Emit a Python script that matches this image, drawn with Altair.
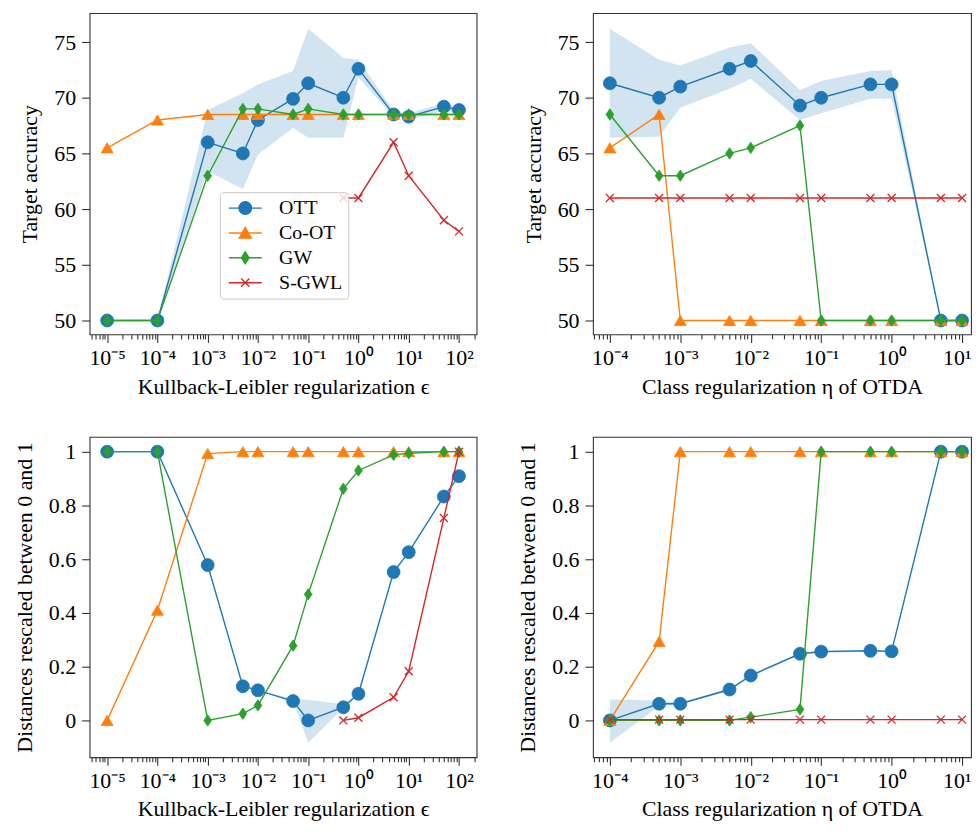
import altair as alt
import numpy as np
import pandas as pd

FONT = "Liberation Serif"
SERIES = ["OTT", "Co-OT", "GW", "S-GWL"]
COLORS = ["#1f77b4", "#ff7f0e", "#2ca02c", "#d62728"]

# x values
EPS = [1e-5, 1e-4, 1e-3, 5e-3, 1e-2, 5e-2, 1e-1, 5e-1, 1, 5, 10, 50, 100]
ETA = [1e-4, 5e-4, 1e-3, 5e-3, 1e-2, 5e-2, 1e-1, 5e-1, 1, 5, 10]

# Top-left: target accuracy vs KL regularization
ACC_EPS_OTT = [50, 50, 66.0, 65.0, 68.0, 69.9, 71.3, 70.0, 72.6, 68.5, 68.3, 69.2, 68.9]
ACC_EPS_OTT_LO = [50, 50, 63.4, 61.8, 64.9, 67.3, 66.4, 66.4, 71.8, 68.3, 68.0, 68.8, 68.8]
ACC_EPS_OTT_HI = [50, 50, 68.9, 70.4, 71.2, 72.4, 76.2, 73.6, 73.4, 68.8, 68.6, 69.5, 69.1]
ACC_EPS_COOT = [65.5, 68.0, 68.5, 68.5, 68.5, 68.5, 68.5, 68.5, 68.5, 68.5, 68.5, 68.5, 68.5]
ACC_EPS_GW = [50, 50, 63.0, 69.0, 69.0, 68.5, 69.0, 68.5, 68.5, 68.5, 68.5, 68.5, 68.5]
ACC_EPS_SGWL = [None, None, None, None, None, None, None, 61.0, 61.0, 66.0, 63.0, 59.0, 58.0]

# Top-right: target accuracy vs class regularization
ACC_ETA_OTT = [71.3, 70.0, 71.0, 72.6, 73.3, 69.3, 70.0, 71.2, 71.2, 50, 50]
ACC_ETA_OTT_LO = [66.4, 66.5, 69.1, 70.8, 71.7, 68.0, 68.6, 69.9, 69.9, 50, 50]
ACC_ETA_OTT_HI = [76.2, 73.4, 72.9, 74.5, 74.9, 70.7, 71.5, 72.4, 72.5, 50, 50]
ACC_ETA_COOT = [65.5, 68.5, 50, 50, 50, 50, 50, 50, 50, 50, 50]
ACC_ETA_GW = [68.5, 63.0, 63.0, 65.0, 65.5, 67.5, 50, 50, 50, 50, 50]
ACC_ETA_SGWL = [61.0, 61.0, 61.0, 61.0, 61.0, 61.0, 61.0, 61.0, 61.0, 61.0, 61.0]

# Bottom-left: rescaled distances vs KL regularization
DIST_EPS_OTT = [1.0, 1.0, 0.578, 0.127, 0.112, 0.072, 0.0, 0.049, 0.099, 0.552, 0.626, 0.833, 0.909]
DIST_EPS_OTT_LO = [1.0, 1.0, 0.578, 0.127, 0.112, 0.070, -0.083, 0.045, 0.099, 0.552, 0.626, 0.833, 0.909]
DIST_EPS_OTT_HI = [1.0, 1.0, 0.578, 0.127, 0.112, 0.081, 0.077, 0.060, 0.099, 0.552, 0.626, 0.833, 0.909]
DIST_EPS_COOT = [0.0, 0.41, 0.993, 1.0, 1.0, 1.0, 1.0, 1.0, 1.0, 1.0, 1.0, 1.0, 1.0]
DIST_EPS_GW = [1.0, 1.0, 0.0, 0.025, 0.056, 0.278, 0.469, 0.862, 0.930, 0.988, 0.994, 1.0, 1.0]
DIST_EPS_SGWL = [None, None, None, None, None, None, None, 0.0, 0.01, 0.086, 0.183, 0.753, 1.0]

# Bottom-right: rescaled distances vs class regularization
DIST_ETA_OTT = [0.0, 0.062, 0.062, 0.115, 0.167, 0.248, 0.256, 0.259, 0.257, 1.0, 1.0]
DIST_ETA_OTT_LO = [-0.083, 0.053, 0.058, 0.110, 0.162, 0.244, 0.252, 0.255, 0.253, 1.0, 1.0]
DIST_ETA_OTT_HI = [0.078, 0.074, 0.066, 0.120, 0.172, 0.252, 0.260, 0.263, 0.261, 1.0, 1.0]
DIST_ETA_COOT = [0.0, 0.294, 1.0, 1.0, 1.0, 1.0, 1.0, 1.0, 1.0, 1.0, 1.0]
DIST_ETA_GW = [0.0, 0.0, 0.0, 0.0, 0.012, 0.041, 1.0, 1.0, 1.0, 1.0, 1.0]
DIST_ETA_SGWL = [0.003, 0.003, 0.003, 0.003, 0.003, 0.003, 0.003, 0.003, 0.003, 0.003, 0.003]

ACC_TICKS = [50, 55, 60, 65, 70, 75]
DIST_TICKS = [0, 0.2, 0.4, 0.6, 0.8, 1]

# marker shapes (plot) and legend symbols (line + marker)
MARKERS = {
    "OTT": ("circle", 169, True),
    "Co-OT": ("M0,-0.85L1,0.85L-1,0.85Z", 144, True),
    "GW": ("M0,-1L0.68,0L0,1L-0.68,0Z", 132, True),
    "S-GWL": ("M-1,-1L1,1M-1,1L1,-1", 64, False),
}
LEG_PATHS = {
    "OTT": "M-2.36,0H2.36M0.9,0A0.9,0.9 0 1,1 -0.9,0A0.9,0.9 0 1,1 0.9,0Z",
    "Co-OT": "M-2.36,0H2.36M0,-0.8L0.86,0.75L-0.86,0.75Z",
    "GW": "M-2.36,0H2.36M0,-0.85L0.55,0L0,0.85L-0.55,0Z",
    "S-GWL": "M-2.36,0H2.36M-0.6,-0.6L0.6,0.6M-0.6,0.6L0.6,-0.6",
}

SUP = str.maketrans("-0123456789", "⁻⁰¹²³⁴⁵⁶⁷⁸⁹")
EXP = "round(log(datum.value)/LN10)"
IS_MAJOR = f"abs(log(datum.value)/LN10 - {EXP}) < 0.01"


def log_ticks(lo_exp, hi_exp):
    vals = []
    for e in range(int(np.floor(lo_exp)), int(np.ceil(hi_exp)) + 1):
        for m in range(1, 10):
            v = float(f"{m}e{e}")
            if lo_exp <= np.log10(v) <= hi_exp:
                vals.append(v)
    return vals


def x_axis(lo_exp, hi_exp, title, flush_offset=None, title_pad=8):
    expr = "''"
    for e in range(int(np.ceil(lo_exp)), int(np.floor(hi_exp)) + 1):
        lab = "10" + str(e).translate(SUP)
        expr = f"{EXP} == {e} ? '{lab}' : " + expr
    kw = dict(
        values=log_ticks(lo_exp, hi_exp),
        labelExpr=f"{IS_MAJOR} ? ({expr}) : ''",
        title=title,
        tickSize={"condition": {"test": IS_MAJOR, "value": 8}, "value": 4.5},
        labelOverlap=False,
        labelBound=False,
        labelPadding=5,
        titlePadding=title_pad,
    )
    if flush_offset is not None:
        kw["labelAlign"] = {"condition": {"test": "datum.value > 5", "value": "right"}, "value": "center"}
        kw["labelOffset"] = {"condition": {"test": "datum.value > 5", "value": flush_offset}, "value": 0}
    return alt.Axis(**kw)


def y_axis(ticks, title, title_pad=12):
    return alt.Axis(
        values=ticks,
        title=title,
        tickSize=8,
        labelPadding=6,
        titlePadding=title_pad,
        labelExpr="datum.value == 0 ? '0' : datum.value == 1 ? '1' : (datum.value < 1 ? format(datum.value, '.1f') : format(datum.value, 'd'))",
    )


def panel(xs, ys, lo, hi, xdom, ydom, xaxis, yaxis, width, height, legend=False):
    X = alt.X("x:Q", scale=alt.Scale(type="log", domain=[10 ** xdom[0], 10 ** xdom[1]], nice=False), axis=xaxis)
    Y = alt.Y("y:Q", scale=alt.Scale(domain=ydom, nice=False, zero=False), axis=yaxis)
    band_df = pd.DataFrame({"x": xs, "lo": lo, "hi": hi})
    layers = [
        alt.Chart(band_df).mark_area(color=COLORS[0], opacity=0.2).encode(
            x=X,
            y=alt.Y("lo:Q", scale=alt.Scale(domain=ydom, nice=False, zero=False), axis=yaxis),
            y2="hi:Q",
        )
    ]
    frames = []
    for name, color in zip(SERIES, COLORS):
        df = pd.DataFrame({"x": xs, "y": ys[name], "series": name}).dropna()
        frames.append(df)
        shape, size, filled = MARKERS[name]
        layers.append(alt.Chart(df).mark_line(color=color, strokeWidth=1.4).encode(x=X, y=Y))
        if filled:
            pm = alt.Chart(df).mark_point(shape=shape, size=size, filled=True, fill=color,
                                          stroke=color, strokeWidth=0.8, opacity=1)
        else:
            pm = alt.Chart(df).mark_point(shape=shape, size=size, filled=False, stroke=color,
                                          strokeWidth=1.3, opacity=1)
        layers.append(pm.encode(x=X, y=Y))
    if legend:
        all_df = pd.concat(frames)
        shape_expr = " : ".join(f"datum.value === '{s}' ? '{LEG_PATHS[s]}'" for s in SERIES) + " : 'circle'"
        col_expr = " : ".join(f"datum.value === '{s}' ? '{c}'" for s, c in zip(SERIES, COLORS)) + " : 'black'"
        leg = alt.Legend(
            orient="none", legendX=131, legendY=180, title=None,
            labelFont=FONT, labelFontSize=20, labelColor="black",
            symbolSize=196, symbolOffset=9.5, labelOffset=24, rowPadding=5,
            padding=6, fillColor="rgba(255,255,255,0.8)", strokeColor="#cccccc", cornerRadius=3,
            symbolOpacity=1, symbolStrokeWidth=1.4,
            symbolType={"expr": shape_expr},
            symbolStrokeColor={"expr": col_expr},
        )
        layers.append(alt.Chart(all_df).mark_point(opacity=0, filled=True).encode(
            x=X, y=Y,
            color=alt.Color("series:N", scale=alt.Scale(domain=SERIES, range=COLORS), legend=leg),
        ))
    return alt.layer(*layers).properties(width=width, height=height)


EPS_DOM = (-5.35, 2.35)
ETA_DOM = (-4.24, 1.127)
ACC_DOM = [48.75, 77.6]
DIST_DOM = [-0.137, 1.055]

tl = panel(EPS, {"OTT": ACC_EPS_OTT, "Co-OT": ACC_EPS_COOT, "GW": ACC_EPS_GW, "S-GWL": ACC_EPS_SGWL},
           ACC_EPS_OTT_LO, ACC_EPS_OTT_HI, EPS_DOM, ACC_DOM,
           x_axis(*EPS_DOM, "Kullback-Leibler regularization ϵ"),
           y_axis(ACC_TICKS, "Target accuracy"),
           389, 323, legend=True)
tr = panel(ETA, {"OTT": ACC_ETA_OTT, "Co-OT": ACC_ETA_COOT, "GW": ACC_ETA_GW, "S-GWL": ACC_ETA_SGWL},
           ACC_ETA_OTT_LO, ACC_ETA_OTT_HI, ETA_DOM, ACC_DOM,
           x_axis(*ETA_DOM, "Class regularization η of OTDA", flush_offset=9),
           y_axis(ACC_TICKS, "Target accuracy"), 380, 323)
bl = panel(EPS, {"OTT": DIST_EPS_OTT, "Co-OT": DIST_EPS_COOT, "GW": DIST_EPS_GW, "S-GWL": DIST_EPS_SGWL},
           DIST_EPS_OTT_LO, DIST_EPS_OTT_HI, EPS_DOM, DIST_DOM,
           x_axis(*EPS_DOM, "Kullback-Leibler regularization ϵ"),
           y_axis(DIST_TICKS, "Distances rescaled between 0 and 1"), 389, 322)
br = panel(ETA, {"OTT": DIST_ETA_OTT, "Co-OT": DIST_ETA_COOT, "GW": DIST_ETA_GW, "S-GWL": DIST_ETA_SGWL},
           DIST_ETA_OTT_LO, DIST_ETA_OTT_HI, ETA_DOM, DIST_DOM,
           x_axis(*ETA_DOM, "Class regularization η of OTDA", flush_offset=9),
           y_axis(DIST_TICKS, "Distances rescaled between 0 and 1"), 380, 322)

chart = alt.concat(
    tl, tr, bl, br, columns=2, spacing={"row": 38, "column": 38}
).resolve_scale(color="independent").resolve_legend(color="independent").properties(
    padding={"left": 4, "top": 2, "right": 0, "bottom": 0}
).configure_view(
    stroke="#333333", strokeWidth=1.1
).configure_axis(
    labelFont=FONT, labelFontSize=22, labelColor="black",
    titleFont=FONT, titleFontSize=22, titleFontWeight="normal", titleColor="black",
    tickColor="#333333", tickWidth=1.1, domain=False, grid=False,
)

chart.save("out.html", embed_options={"renderer": "svg", "actions": False})
